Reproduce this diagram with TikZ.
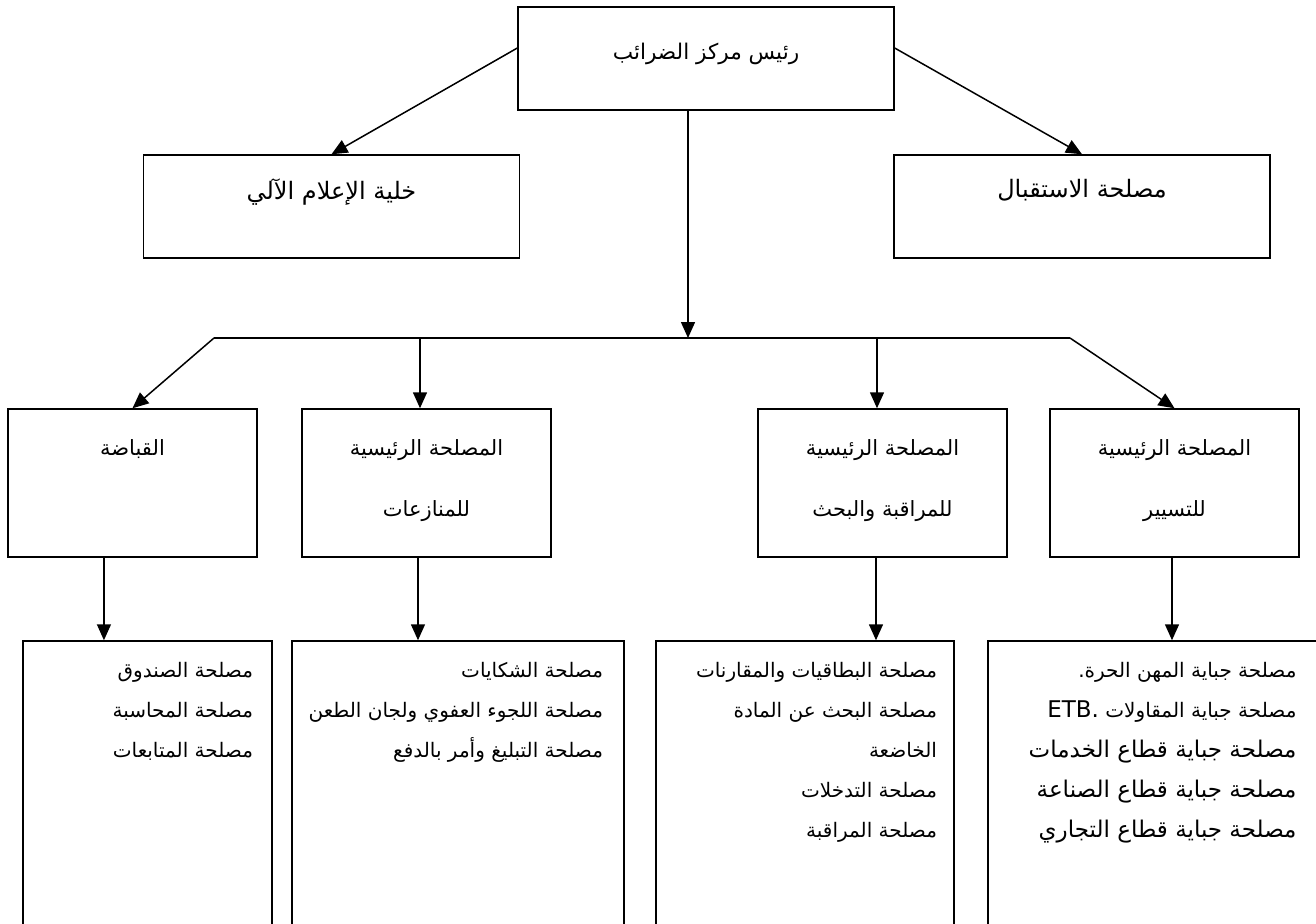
\documentclass[tikz,border=0pt]{standalone}
\usepackage{fontspec}
\newfontfamily\arabicfont[Script=Arabic]{DejaVu Sans}
\TeXXeTstate=1
\usetikzlibrary{arrows.meta,positioning,calc}
\newcommand{\artxt}[1]{\beginR #1\endR}

\begin{document}
\begin{tikzpicture}[x=0.5pt, y=-0.5pt, >={Triangle[length=8pt,width=7pt]}, line width=0.75pt]
\tikzstyle{box}=[draw, inner sep=0pt, minimum width=188pt, minimum height=51.5pt]
\tikzstyle{sub}=[draw, inner sep=0pt, minimum width=124.5pt, minimum height=74pt]
\tikzstyle{lst}=[draw, inner sep=0pt, minimum height=160pt]
\tikzstyle{lbl}=[inner sep=0pt, align=center, font=\arabicfont\fontsize{10.5}{30.5}\selectfont]
\tikzstyle{itm}=[inner sep=0pt, align=right, anchor=north east, font=\arabicfont\fontsize{10}{20}\selectfont]
\clip (0,0) rectangle (1316,923);

\node[box] (head) at (706,58.5) {}; \node[box] (info) at (331.5,206.5) {}; \node[box] (recv) at (1082,206.5) {};
\node[lbl, below=18pt of head.north, font=\arabicfont\fontsize{10.8}{20}\selectfont] (headT) {\artxt{رئيس مركز الضرائب}};
\node[lbl, below=12pt of info.north, font=\arabicfont\fontsize{12}{20}\selectfont] (infoT) {\artxt{خلية الإعلام الآلي}};
\node[lbl, below=12pt of recv.north, font=\arabicfont\fontsize{12}{20}\selectfont] (recvT) {\artxt{مصلحة الاستقبال}};

\node[sub] (qab) at (132.5,483) {}; \node[sub] (nz) at (426.5,483) {}; \node[sub] (mr) at (882.5,483) {}; \node[sub] (ts) at (1174.5,483) {};
\node[lbl, below=15.5pt of qab.north] (qabT) {\artxt{القباضة}};
\node[lbl, below=15.5pt of nz.north] (nzT) {\artxt{المصلحة الرئيسية}\\\artxt{للمنازعات}};
\node[lbl, below=15.5pt of mr.north] (mrT) {\artxt{المصلحة الرئيسية}\\\artxt{للمراقبة والبحث}};
\node[lbl, below=15.5pt of ts.north] (tsT) {\artxt{المصلحة الرئيسية}\\\artxt{للتسيير}};

\node[lst, minimum width=124.5pt] (qabL) at (147.5,801) {}; \node[lst, minimum width=166pt] (nzL) at (458,801) {};
\node[lst, minimum width=149pt] (mrL) at (805,801) {}; \node[lst, minimum width=166pt] (tsL) at (1154,801) {};
\node[itm] (qabI) at ($(qabL.north east)+(-19,21)$) {\artxt{مصلحة الصندوق}\\\artxt{مصلحة المحاسبة}\\\artxt{مصلحة المتابعات}};
\node[itm] (nzI) at ($(nzL.north east)+(-21,21)$) {\artxt{مصلحة الشكايات}\\\artxt{مصلحة اللجوء العفوي ولجان الطعن}\\\artxt{مصلحة التبليغ وأمر بالدفع}};
\node[itm] (mrI) at ($(mrL.north east)+(-17,21)$) {\artxt{مصلحة البطاقيات والمقارنات}\\\artxt{مصلحة البحث عن المادة}\\\artxt{الخاضعة}\\\artxt{مصلحة التدخلات}\\\artxt{مصلحة المراقبة}};
\node[itm] (tsI) at ($(tsL.north west)+(310,21)$) {\artxt{مصلحة جباية المهن الحرة.}\\
  \artxt{مصلحة جباية المقاولات \beginL{\fontsize{11.5}{20}\selectfont ETB.}\endL}\\
  {\fontsize{11.5}{20}\selectfont\artxt{مصلحة جباية قطاع الخدمات}}\\
  {\fontsize{11.5}{20}\selectfont\artxt{مصلحة جباية قطاع الصناعة}}\\
  {\fontsize{11.5}{20}\selectfont\artxt{مصلحة جباية قطاع التجاري}}};

\draw[->] ($(head.north west)!.4!(head.south west)$) -- (info.north);
\draw[->] ($(head.north east)!.4!(head.south east)$) -- (recv.north);
\coordinate (hub) at (688,338); \coordinate (bl) at (214,338); \coordinate (br) at (1070,338);
\coordinate (b2) at (420,338); \coordinate (b3) at (877,338);
\draw[->] (hub |- head.south) -- (hub);
\draw (bl) -- (br);
\draw[->] (bl) -- (qab.north); \draw[->] (b2) -- (b2 |- nz.north);
\draw[->] (b3) -- (b3 |- mr.north); \draw[->] (br) -- (ts.north);

\coordinate (qa) at ($(qab.south west)!.386!(qab.south east)$); \coordinate (na) at ($(nz.south west)!.466!(nz.south east)$);
\coordinate (ma) at ($(mr.south west)!.474!(mr.south east)$); \coordinate (ta) at ($(ts.south west)!.49!(ts.south east)$);
\draw[->] (qa) -- (qa |- qabL.north); \draw[->] (na) -- (na |- nzL.north);
\draw[->] (ma) -- (ma |- mrL.north); \draw[->] (ta) -- (ta |- tsL.north);
\end{tikzpicture}
\end{document}
